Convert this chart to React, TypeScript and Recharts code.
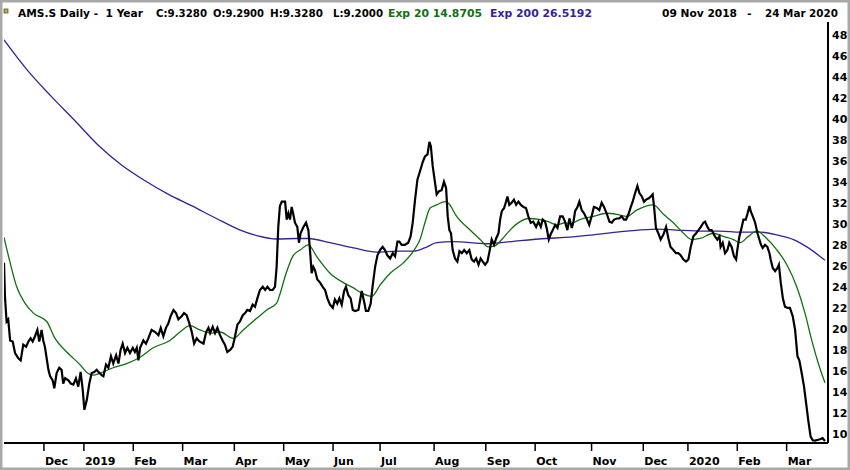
import React from 'react';
import { LineChart, Line, XAxis, YAxis } from 'recharts';

// x values are trading-day positions from 09 Nov 2018 (0) to 24 Mar 2020 (~349)
const closeDays = [0, 0.4, 1.1, 1.8, 2.6, 3.7, 4.7, 6.1, 7.1, 8.2, 9.4, 10.4, 11.3, 12.2, 13.2, 14.2, 15, 16, 16.7, 17.4, 18.9, 19.6, 20.7, 21.4, 22.4, 23.5, 24.5, 25.2, 26, 27.4, 28.4, 29.5, 30.6, 31.6, 32.6, 33.5, 34.2, 35.2, 36.3, 37.3, 38.4, 39.4, 40.6, 41.6, 42.3, 43.4, 44.4, 45.5, 46.5, 47.7, 48.7, 49.6, 50.5, 51.5, 52.5, 53.6, 54.8, 55.7, 56.5, 57.2, 57.9,
  59.3, 60.4, 61.4, 62.8, 64.3, 65.7, 66.7, 67.8, 68.9, 69.9, 70.9, 72.1, 73.2, 74.2, 75.6, 76.6, 77.7, 78.9, 79.9, 80.9, 82, 83.1, 84.9, 86, 87, 87.7, 88.8, 89.8, 90.8, 91.9, 93, 94, 95, 96.2, 97.3, 98.3, 99.3, 100.4, 101.6, 102.6, 103.5, 104.7, 105.8, 106.8, 107.8, 108.9, 110.1, 111.1, 112.1, 113.2, 114.3, 115.3, 116, 116.7, 117.4, 118.2, 119.1,
  119.6, 120.3, 121, 121.7, 122.4, 123.1, 123.8, 124.8, 125.5, 126.2, 127.4, 128.5, 129.5, 130.2, 130.9, 131.6, 132.3, 133.3, 134.5, 135.6, 136.6, 137.6, 138.7, 139.9, 140.8, 141.8, 142.7, 143.7, 144.7, 145.5, 146.5, 147.5, 148.4, 149.4, 150.8, 152.2, 153.2, 154, 155, 156, 156.8, 157.9, 158.9, 160, 161.1, 162.1, 163.1, 164.3, 165.4, 166.4, 167.4, 168.2, 169.2, 170.6, 172, 173, 173.9, 174.9, 175.9, 177,
  178.2, 179.1, 180.2, 181, 181.6, 182.4, 183.4, 184.1, 185.1, 186.2, 187.2, 188.1, 188.8, 189.5, 190.2, 190.9, 191.9, 192.9, 193.8, 194.8, 195.8, 196.9, 198, 199, 200, 200.9, 201.9, 202.8, 203.7, 204.7, 205.7, 206.6, 207.5, 208.5, 209.4, 210.4, 211.1, 211.8, 212.8, 213.6, 214.2, 215, 216, 217, 217.9, 218.9, 219.9, 221, 222.1, 223.1, 224.1, 225.2, 226.4, 227.4, 228.4, 229.2, 230.2, 230.9, 231.8, 232.6, 233.5, 234.5, 235.5, 236.6, 237.7, 238.7,
  239.7, 240.6, 241.6, 242.3, 243, 244, 244.8, 245.8, 246.8, 247.9, 249, 250, 251, 252.2, 253.3, 254.3, 255.3, 256.4, 257.6, 258.6, 259.6, 260.7, 261.7, 262.8, 263.8, 264.7, 265.7, 266.7, 267.5, 268.5, 269.5, 270.4, 271.4, 272.3, 273.2, 274.2, 275.2, 276, 276.6, 277.4, 278.4, 279.4, 280.6, 281.7, 282.7, 283.6, 284.8, 285.9, 286.9, 287.9, 289.1, 290.2, 291.2, 292.2, 293.3, 294.5, 295.5, 296.5, 297.6,
  298.3, 299.3, 300.1, 301.1, 301.8, 302.5, 303.5, 304.4, 304.9, 305.8, 306.8, 307.8, 308.6, 309.6, 310.6, 311.5, 312, 312.9, 313.9, 314.6, 315.6, 316.4, 317.2, 317.7, 318.6, 319.6, 320.6, 321.4, 322.1, 322.8, 323.8, 324.8, 325.7, 326.2, 327.1, 328.1, 329.1, 329.7, 330.5, 331.4, 332.3, 333.3, 334.4, 335.6, 336.6, 337.6, 338.4, 339.4, 340.4, 341.3, 342.2, 343.2, 344.1, 345.1, 346.1, 347.2, 348.3, 349.3];

const closeVals = [26.3, 23.1, 20.7, 20.9, 18.9, 18.8, 17.7, 17.2, 17.0, 18.5, 18.3, 18.8, 19.1, 18.8, 19.3, 19.9, 18.8, 19.9, 18.9, 18.3, 16.1, 15.5, 15.1, 14.35, 15.8, 16.3, 16.1, 14.8, 15.3, 15.1, 14.8, 14.7, 15.3, 14.5, 15.9, 14.2, 12.3, 13.2, 14.8, 15.8, 15.9, 16.1, 15.8, 15.6, 15.5, 16.6, 16.3, 17.4, 16.7, 17.5, 16.7, 18.0, 18.6, 17.7, 18.2, 17.7, 18.2, 17.8, 18.2, 17.0, 18.2,
  18.9, 18.6, 19.1, 19.9, 19.7, 19.4, 20.1, 19.3, 20.1, 20.5, 21.2, 21.8, 21.5, 20.9, 21.2, 21.5, 21.3, 20.5, 19.7, 18.6, 19.1, 18.8, 18.6, 19.7, 20.1, 19.6, 20.2, 19.6, 20.1, 19.4, 18.9, 18.5, 17.8, 18.0, 18.3, 19.3, 20.4, 20.7, 21.3, 21.5, 21.8, 21.7, 22.3, 22.1, 22.9, 23.7, 24.0, 23.7, 24.0, 23.7, 23.7, 24.0, 25.9, 29.7, 31.7, 32.1, 32.1,
  32.1, 30.4, 31.0, 30.4, 31.6, 30.9, 30.1, 29.7, 28.2, 29.1, 29.7, 30.1, 29.4, 27.5, 25.3, 25.9, 25.6, 24.7, 24.4, 24.0, 23.7, 22.9, 22.3, 22.0, 22.8, 22.4, 22.9, 22.3, 23.6, 24.0, 23.2, 22.9, 21.8, 21.7, 21.8, 23.6, 22.6, 21.7, 21.7, 22.4, 24.0, 25.9, 27.0, 27.5, 27.8, 27.5, 27.0, 26.7, 27.2, 26.9, 28.3, 28.3, 28.0, 28.0, 28.2, 28.8, 30.1, 32.3, 34.2, 35.0,
  35.9, 36.4, 36.6, 37.8, 37.4, 35.5, 33.9, 32.8, 33.1, 33.2, 34.0, 33.4, 30.7, 29.4, 29.1, 27.5, 26.7, 26.4, 27.4, 27.2, 27.5, 27.2, 27.5, 26.6, 26.4, 26.7, 26.1, 26.7, 26.4, 26.1, 26.4, 27.4, 28.5, 28.0, 28.6, 29.1, 30.4, 31.2, 31.5, 32.1, 32.6, 31.8, 32.0, 32.3, 31.8, 32.1, 31.8, 31.6, 31.5, 30.7, 30.1, 30.2, 29.7, 30.2, 29.7, 30.4, 30.2, 29.6, 28.5, 29.0, 29.4, 29.9, 29.6, 30.7, 30.7, 30.2,
  29.4, 30.5, 29.6, 30.2, 31.2, 31.6, 32.1, 31.3, 31.0, 30.5, 29.9, 30.7, 31.6, 31.5, 31.3, 32.0, 31.6, 31.0, 30.2, 30.1, 30.4, 30.5, 30.5, 30.7, 30.4, 30.4, 30.9, 31.6, 32.1, 32.9, 33.6, 32.9, 32.6, 32.1, 32.3, 32.4, 32.6, 32.8, 31.6, 29.6, 29.1, 28.5, 29.0, 29.7, 28.6, 27.8, 27.5, 27.2, 27.2, 27.0, 26.6, 26.4, 26.6, 27.8, 28.8, 29.1, 29.4, 29.7, 30.1,
  30.2, 29.7, 29.4, 29.4, 29.1, 28.8, 28.5, 28.8, 27.8, 28.2, 27.2, 27.5, 28.2, 27.8, 26.9, 26.6, 27.5, 28.8, 29.7, 30.4, 30.4, 31.0, 31.7, 31.2, 30.7, 30.1, 29.1, 28.5, 28.0, 27.7, 28.0, 27.8, 27.2, 26.6, 25.8, 25.5, 25.8, 26.1, 24.4, 22.9, 22.1, 22.0, 22.0, 21.2, 19.9, 17.4, 17.0, 15.8, 14.5, 12.9, 11.3, 9.75, 9.4, 9.37, 9.43, 9.5, 9.6, 9.33];

const ema20Days = [0, 2.6, 5.4, 8.9, 12.5, 18.2, 21.7, 26.7, 32.3, 35.5, 38, 40.9, 46.5, 52.2, 57.9, 63.5, 70.6, 74.9, 79.1, 83.4, 87.7, 91.9, 97.6, 101.8, 107.5, 111.8, 116, 117.4, 119.9, 123.1, 126, 129.5, 133, 138.7, 144.4, 148.7, 152.2, 156.5, 160.1, 164.3, 170, 174.2, 177, 179.1, 181.3, 184.1, 187.7, 189.1, 192.6, 198.3, 202.6, 206.1, 208.9, 211.8, 215.3, 219.6, 223.1, 228.1, 231.6, 235.2, 238.7, 240.9, 245, 250.8, 256.4, 260.7, 265, 269.2, 276.3, 280.6, 284.8, 289.1, 292.6, 296.2, 301.8, 306, 310.4, 313.2, 316.7, 320.3, 324.5, 328.9, 333.1, 337.3, 340.8, 343.7, 346.5, 349.3];
const ema20Vals = [28.7, 26.3, 24.0, 22.45, 21.5, 20.7, 19.1, 17.8, 16.6, 15.8, 15.6, 15.8, 16.3, 16.7, 17.3, 18.2, 18.9, 19.7, 20.3, 19.9, 19.6, 19.7, 19.1, 19.9, 21.0, 21.8, 22.45, 23.3, 25.2, 27.0, 27.5, 28.0, 26.9, 25.3, 24.4, 23.9, 23.4, 23.1, 24.2, 25.3, 26.3, 27.4, 28.5, 30.1, 31.5, 31.8, 32.1, 31.95, 30.7, 29.4, 28.5, 27.8, 27.9, 28.5, 29.4, 30.2, 30.5, 30.4, 30.2, 29.9, 30.1, 30.0, 30.4, 30.7, 31.0, 30.9, 30.7, 31.3, 31.8, 30.9, 30.1, 29.1, 28.5, 28.6, 29.1, 28.8, 28.5, 28.2, 28.8, 29.3, 28.6, 27.5, 26.1, 24.0, 21.5, 18.9, 16.7, 14.87];

const ema200Days = [0, 10, 20, 30, 40, 50, 60, 70, 80, 90, 100, 108, 116, 124.5, 129.5, 138.7, 148.7, 158.6, 167.1, 174.2, 179, 184.1, 191.2, 205.4, 219.6, 230.9, 238.7, 250.8, 265, 277.7, 286.2, 298.3, 304.7, 313.2, 321.7, 328.9, 335.9, 341.6, 349.3];
const ema200Vals = [47.5, 44.6, 42.15, 39.85, 37.5, 35.6, 34.1, 32.8, 31.7, 30.55, 29.45, 28.85, 28.55, 28.6, 28.6, 28.2, 27.7, 27.3, 27.4, 27.4, 27.7, 28.2, 28.3, 28.1, 28.4, 28.6, 28.7, 28.95, 29.3, 29.5, 29.4, 29.3, 29.3, 29.2, 29.2, 28.95, 28.5, 27.8, 26.52];

const monthTickDays = [17, 34, 55, 76, 98, 119, 140, 160, 183, 205, 226, 250, 272, 291, 312, 333];
const monthTickLabels = ['Dec', '2019', 'Feb', 'Mar', 'Apr', 'May', 'Jun', 'Jul', 'Aug', 'Sep', 'Oct', 'Nov', 'Dec', '2020', 'Feb', 'Mar'];
const priceTicks = [10, 12, 14, 16, 18, 20, 22, 24, 26, 28, 30, 32, 34, 36, 38, 40, 42, 44, 46, 48];

const closeData = closeDays.map((d, i) => ({ d, v: closeVals[i] }));
const ema20Data = ema20Days.map((d, i) => ({ d, v: ema20Vals[i] }));
const ema200Data = ema200Days.map((d, i) => ({ d, v: ema200Vals[i] }));

const FONT = 'DejaVu Sans, Verdana, sans-serif';
const GREEN = '#107010';
const PURPLE = '#3a1f96';

const XTick = (props: any) => {
  const { x, y, payload } = props;
  const i = monthTickDays.indexOf(payload.value);
  return (
    <text x={x + 1} y={y} dy={12} textAnchor="start" fontFamily={FONT} fontSize={11} fontWeight="bold" fill="#000">
      {monthTickLabels[i]}
    </text>
  );
};

const HeaderText = ({ x, w, fill, children }: any) => (
  <text x={x} y={17} textLength={w} lengthAdjust="spacingAndGlyphs" fill={fill || '#000'} style={{ whiteSpace: 'pre' }}>
    {children}
  </text>
);

export default function App() {
  return (
    <div style={{ position: 'absolute', left: 0, top: 0, width: 850, height: 470, background: '#fff', overflow: 'hidden' }}>
      <LineChart width={850} height={470} margin={{ top: 22, right: 0, left: 4, bottom: 0 }}>
        <XAxis
          dataKey="d"
          type="number"
          domain={[0, 350.6]}
          ticks={monthTickDays}
          allowDataOverflow
          height={27}
          tick={<XTick />}
          tickSize={8}
          tickMargin={2}
          tickLine={{ stroke: '#000', strokeWidth: 1.5 }}
          axisLine={{ stroke: '#000', strokeWidth: 2 }}
          interval={0}
        />
        <YAxis
          orientation="right"
          type="number"
          domain={[9.14, 49.2]}
          ticks={priceTicks}
          allowDataOverflow
          width={22}
          tickSize={0}
          tickMargin={4}
          tickLine={false}
          interval={0}
          axisLine={{ stroke: '#000', strokeWidth: 2 }}
          tick={{ fontSize: 11, fill: '#000', fontFamily: FONT, fontWeight: 'bold' }}
        />
        <Line data={ema200Data} dataKey="v" type="monotone" stroke={PURPLE} strokeWidth={1.3} dot={false} isAnimationActive={false} />
        <Line data={ema20Data} dataKey="v" type="monotone" stroke={GREEN} strokeWidth={1.3} dot={false} isAnimationActive={false} />
        <Line data={closeData} dataKey="v" type="linear" stroke="#000" strokeWidth={2.2} dot={false} isAnimationActive={false} />
      </LineChart>
      <svg width={850} height={470} style={{ position: 'absolute', left: 0, top: 0, pointerEvents: 'none' }}>
        <rect x={1.25} y={1.25} width={847.5} height={467.5} fill="none" stroke="#a9a9a9" strokeWidth={2.5} />
        <rect x={4} y={9} width={4} height={4} fill="#b4a85a" stroke="#5f5a20" strokeWidth={0.8} />
        <g fontFamily={FONT} fontSize={11} fontWeight="bold">
          <HeaderText x={18} w={125}>{'AMS.S Daily -  1 Year'}</HeaderText>
          <HeaderText x={156} w={51}>C:9.3280</HeaderText>
          <HeaderText x={213} w={51}>O:9.2900</HeaderText>
          <HeaderText x={270} w={53}>H:9.3280</HeaderText>
          <HeaderText x={333} w={50}>L:9.2000</HeaderText>
          <HeaderText x={388} w={94} fill={GREEN}>Exp 20 14.8705</HeaderText>
          <HeaderText x={490} w={102} fill={PURPLE}>Exp 200 26.5192</HeaderText>
          <HeaderText x={662} w={75}>09 Nov 2018</HeaderText>
          <text x={747} y={17} fill="#000">-</text>
          <HeaderText x={765} w={73}>24 Mar 2020</HeaderText>
        </g>
      </svg>
    </div>
  );
}
